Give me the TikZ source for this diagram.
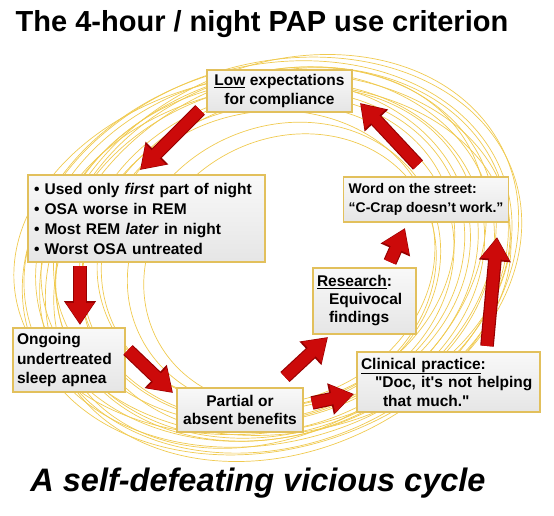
\documentclass[tikz,border=0pt]{standalone}
\usepackage{fontspec}
\setmainfont{Liberation Sans}[Ligatures=TeXOff]
\usetikzlibrary{arrows.meta}
\definecolor{ringc}{RGB}{240,202,80}
\definecolor{boxedge}{RGB}{226,192,92}
\definecolor{arrred}{RGB}{204,10,10}
\definecolor{arredge}{RGB}{150,0,0}
\tikzset{
 ring/.style={draw=ringc, line width=0.7pt},
 boxn/.style={draw=boxedge, line width=1.3pt, top color=gray!5, bottom color=gray!20, font=\fontsize{15.5}{19.5}\selectfont\bfseries, inner sep=0pt},
 redarrowedge/.style={draw=arredge, line width=13.6pt, -{Triangle[width=30.5pt,length=24pt]}},
 redarrow/.style={draw=arrred, line width=11.4pt, -{Triangle[width=27pt,length=21pt]}, shorten >=1.2pt},
}
\begin{document}
\begin{tikzpicture}[x=1pt,y=-1pt]
\useasboundingbox (0,0) rectangle (554,516);
% rings
\foreach \cx/\cy/\a/\b/\r in {272/256/255/192/18, 268/254/248/188/16, 274/260/240/186/20, 265/256/232/182/14, 276/254/226/180/22, 270/260/218/174/17, 262/252/210/170/12, 280/260/204/166/24, 272/256/196/162/19, 268/262/188/156/15, 278/252/180/152/21, 266/258/170/146/13, 284/266/160/140/25, 262/254/250/178/10, 282/258/246/192/26, 276/260/236/174/8, 290/270/150/132/28, 270/258/228/176/30}{
 \draw[ring, rotate around={\r:(\cx,\cy)}] (\cx,\cy) ellipse [x radius=\a, y radius=\b];
}
% titles
\node[font=\fontsize{29}{34}\selectfont\bfseries, anchor=base] (title) at (262,32) {The 4-hour / night PAP use criterion};
\node[font=\fontsize{32.5}{38}\selectfont\bfseries\itshape, anchor=base] (foot) at (258,491) {A self-defeating vicious cycle};
% boxes
\node[boxn, minimum width=145pt, minimum height=42pt, align=center] (low) at (279.5,91) {\underline{Low} expectations\\for compliance};
\node[boxn, font=\fontsize{15.5}{20}\selectfont\bfseries, minimum width=237pt, minimum height=87pt, text width=225pt, align=left] (used) at (146.5,218.5) {• Used only \textit{first} part of night\\• OSA worse in REM\\• Most REM \textit{later} in night\\• Worst OSA untreated};
\node[boxn, font=\fontsize{14}{19.5}\selectfont\bfseries, inner xsep=5pt, minimum height=45pt, align=left, anchor=west] (word) at (343,199.5) {Word on the street:\\“C-Crap doesn’t work.”};
\node[boxn, font=\fontsize{15.5}{18}\selectfont\bfseries, minimum width=103pt, minimum height=66pt, text width=95pt, align=left] (research) at (364.5,301) {\underline{Research}:\\\hspace*{12pt}Equivocal\\\hspace*{12pt}findings};
\node[boxn, minimum width=112pt, minimum height=64pt, text width=104pt, align=left] (ongoing) at (69,360) {Ongoing\\undertreated\\sleep apnea};
\node[boxn, font=\fontsize{15.5}{18}\selectfont\bfseries, minimum width=126pt, minimum height=44pt, align=center] (partial) at (240,410) {Partial or\\absent benefits};
\node[boxn, font=\fontsize{15.5}{18.5}\selectfont\bfseries, minimum width=183pt, minimum height=60pt, text width=175pt, align=left] (clinical) at (448.5,382) {\underline{Clinical practice}:\\\hspace*{14pt}"Doc, it's not helping\\\hspace*{22pt}that much."};
% arrows
\coordinate (a1s) at (200,110); \coordinate (a1e) at (140,170);
\coordinate (a2s) at (80,266); \coordinate (a2e) at (80,325);
\coordinate (a3s) at (128,350); \coordinate (a3e) at (173,393);
\coordinate (a4s) at (312,403); \coordinate (a4e) at (354,394);
\coordinate (a5s) at (285,377); \coordinate (a5e) at (328,337);
\coordinate (a6s) at (390,262); \coordinate (a6e) at (405,228);
\coordinate (a7s) at (487,346); \coordinate (a7e) at (497,237);
\coordinate (a8s) at (418,165); \coordinate (a8e) at (360,103);
\foreach \i in {1,...,8}{
 \draw[redarrowedge] (a\i s) -- (a\i e);
 \draw[redarrow] (a\i s) -- (a\i e);
}
\end{tikzpicture}
\end{document}
